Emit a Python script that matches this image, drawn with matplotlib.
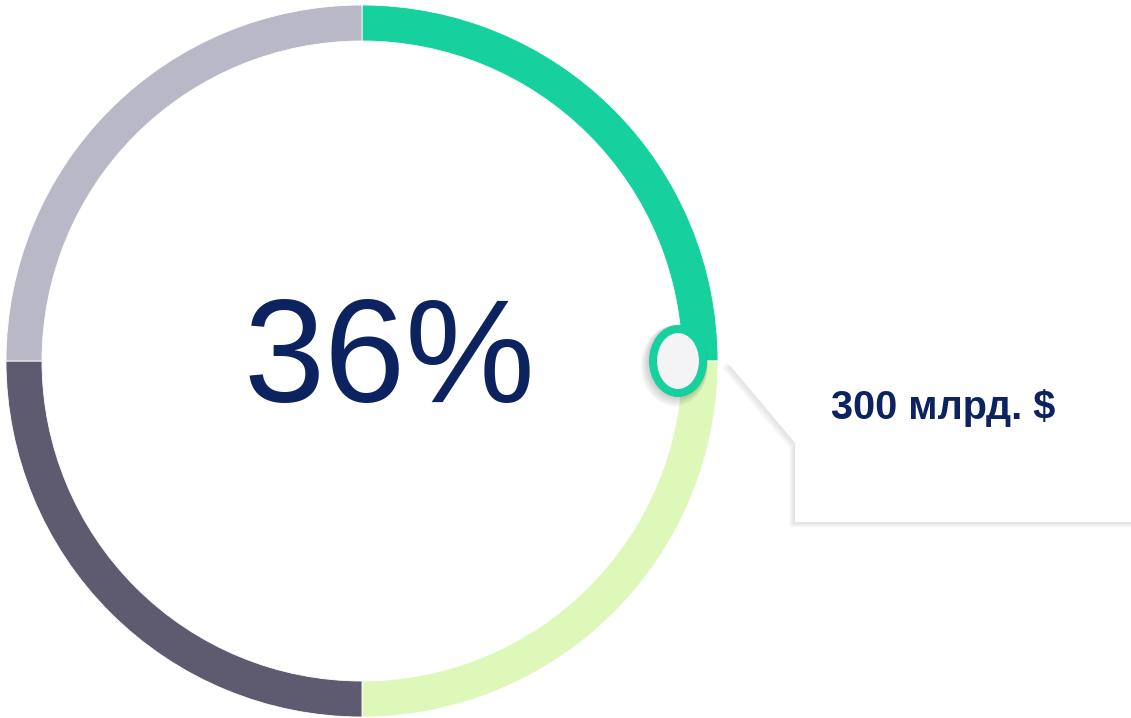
import matplotlib
matplotlib.use("Agg")
import matplotlib.pyplot as plt
from matplotlib.patches import Ellipse, Polygon

# ── data ─────────────────────────────────────────────────────────────────────
segment_values = [25, 25, 25, 25]
segment_colors = ["#16D09D", "#DDF8B9", "#5E5B70", "#B9B8C6"]
center_label = "36%"
tooltip_label = "300 млрд. $"

W, H = 1131, 718
NAVY = "#0C2360"


def py(y):
    # pixel row (top-down) -> data y (bottom-up)
    return H - y


fig = plt.figure(figsize=(W / 100, H / 100), dpi=100)
ax = fig.add_axes([0, 0, 1, 1])

cx, cy = 362, py(361)
ax.pie(segment_values, colors=segment_colors, startangle=90, counterclock=False,
       center=(cx, cy), radius=356,
       wedgeprops=dict(width=36, linewidth=0.6, edgecolor="white"))

ax.text(389, py(402), center_label, ha="center", va="baseline",
        fontsize=105, color=NAVY, family="Liberation Sans")

# ── tooltip box with soft shadow ─────────────────────────────────────────────
tip = [(727, 362), (795, 443), (795, 522), (1145, 522), (1145, 362)]
for i in range(8, 0, -1):
    pts = [(x - i * 0.7, py(y + i * 0.7)) for x, y in tip]
    ax.add_patch(Polygon(pts, closed=True, facecolor="#9a9a9a",
                         alpha=0.035, linewidth=0, zorder=3))
ax.add_patch(Polygon([(x, py(y)) for x, y in tip], closed=True,
                     facecolor="white", linewidth=0, zorder=4))
ax.text(831, py(419), tooltip_label, ha="left", va="baseline", fontsize=28.5,
        fontweight="bold", color=NAVY, family="Liberation Sans", zorder=5)

# ── marker at the current position ───────────────────────────────────────────
mx, my = 678, py(361)
for i in range(6, 0, -1):
    ax.add_patch(Ellipse((mx - i * 0.6, my - i * 0.8), 58 + i * 1.5, 72 + i * 1.5,
                         facecolor="black", alpha=0.03, linewidth=0, zorder=6))
ax.add_patch(Ellipse((mx, my), 50, 64, facecolor="#F4F4F7",
                     edgecolor=segment_colors[0], linewidth=8 * 0.72, zorder=7))

ax.set_xlim(0, W)
ax.set_ylim(0, H)
ax.set_aspect("equal")
ax.axis("off")

fig.savefig("out.png", dpi=100, facecolor="white")
